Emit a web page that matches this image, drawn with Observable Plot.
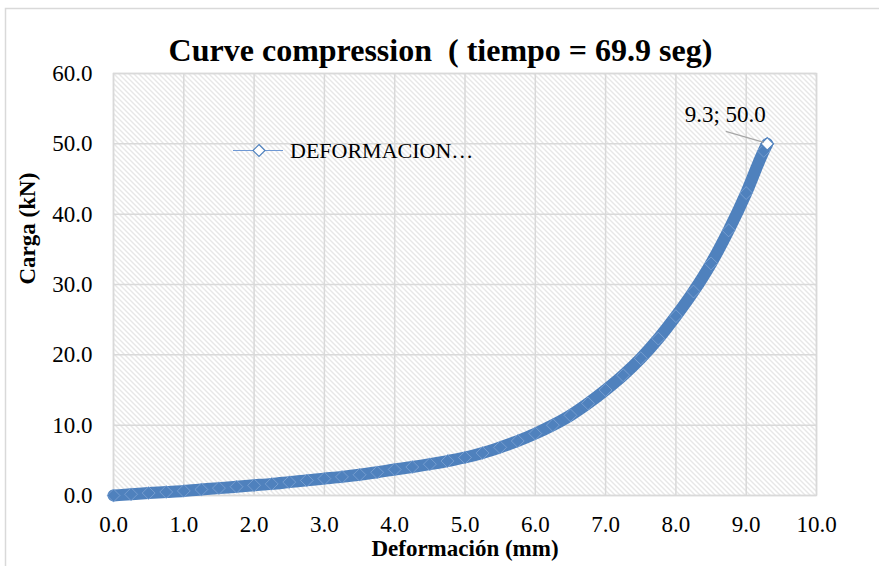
<!DOCTYPE html>
<html>
<head>
<meta charset="utf-8">
<script src="https://cdn.jsdelivr.net/npm/d3@7"></script>
<script src="https://cdn.jsdelivr.net/npm/@observablehq/plot@0.6"></script>
<style>
  body { margin: 0; background: #fff; }
  #chart { width: 879px; height: 566px; overflow: hidden; }
</style>
</head>
<body>
<div id="chart"></div>
<script>
// Compression test: deformation (mm) vs load (kN)
const deformacion = [0, 0.25, 0.5, 0.75, 1, 1.25, 1.5, 1.75, 2, 2.25, 2.5, 2.75, 3, 3.25, 3.5, 3.75,
  4, 4.25, 4.5, 4.75, 5, 5.25, 5.5, 5.75, 6, 6.25, 6.5, 6.75, 7, 7.25, 7.5, 7.75, 8, 8.25, 8.5, 8.75,
  9, 9.25, 9.3];
const carga = [0, 0.18, 0.35, 0.5, 0.65, 0.85, 1.05, 1.25, 1.45, 1.65, 1.9, 2.15, 2.4, 2.65, 2.95, 3.3,
  3.7, 4.05, 4.45, 4.9, 5.4, 6.05, 6.85, 7.75, 8.8, 10.0, 11.4, 13.1, 15.0, 17.1, 19.5, 22.3, 25.5, 29.0,
  33.0, 37.7, 43.0, 49.0, 50.0];
const xTicks = [0, 1, 2, 3, 4, 5, 6, 7, 8, 9, 10];
const yTicks = [0, 10, 20, 30, 40, 50, 60];
const chartTitle = "Curve compression  ( tiempo = 69.9 seg)";
const seriesName = "DEFORMACION…";
const xLabel = "Deformación (mm)";
const yLabel = "Carga (kN)";

const data = deformacion.map((x, i) => ({x, y: carga[i]}));
const last = data[data.length - 1];
const blue = "#4f81bd";
const serif = "'Liberation Serif', 'Times New Roman', serif";
const fmt = d3.format(".1f");

const plot = Plot.plot({
  width: 879,
  height: 566,
  marginLeft: 113,
  marginRight: 63,
  marginTop: 73,
  marginBottom: 71,
  style: {fontFamily: serif, fontSize: "23px", color: "#000", background: "#fff"},
  x: {domain: [0, 10], label: null},
  y: {domain: [0, 60], label: null},
  marks: [
    Plot.frame({fill: "url(#hatch)", stroke: null}),
    Plot.gridX(xTicks, {stroke: "#d9d9d9", strokeOpacity: 1, strokeWidth: 1.5}),
    Plot.gridY(yTicks, {stroke: "#d9d9d9", strokeOpacity: 1, strokeWidth: 1.5}),
    Plot.frame({stroke: "#d9d9d9", strokeWidth: 1.5}),
    Plot.axisX(xTicks, {tickFormat: fmt, tickSize: 0, tickPadding: 20, label: null, fontSize: 23}),
    Plot.axisY(yTicks, {tickFormat: fmt, tickSize: 0, tickPadding: 21, label: null, fontSize: 23}),
    // load curve: a thick band with dense diamond markers
    Plot.line(data, {x: "x", y: "y", stroke: blue, strokeWidth: 12, curve: "monotone-x"}),
    Plot.dot(data, {x: "x", y: "y", symbol: d3.symbolDiamond2, r: 5.8, fill: blue, stroke: "#8fb0dc", strokeWidth: 0.6}),
    Plot.dot([last], {x: "x", y: "y", symbol: d3.symbolDiamond2, r: 5.6, fill: "#fff", stroke: blue, strokeWidth: 1.2}),
    Plot.text([last], {x: "x", y: "y", text: d => `${fmt(d.x)}; ${fmt(d.y)}`, dx: -42, dy: -29, fontSize: 23}),
    Plot.text([chartTitle], {text: d => d, frameAnchor: "top", dx: -24.5, dy: -13, lineAnchor: "bottom", fontSize: 32, fontWeight: "bold"}),
    Plot.text([xLabel], {text: d => d, frameAnchor: "bottom", dy: 60, fontSize: 23, fontWeight: "bold"}),
    Plot.text([yLabel], {text: d => d, frameAnchor: "left", dx: -86, rotate: -90, fontSize: 23, fontWeight: "bold"})
  ]
});

const svg = d3.select(plot);

// hatched plot background
const defs = svg.insert("defs", ":first-child");
const pat = defs.append("pattern")
  .attr("id", "hatch")
  .attr("patternUnits", "userSpaceOnUse")
  .attr("width", 5)
  .attr("height", 5);
pat.append("rect").attr("width", 5).attr("height", 5).attr("fill", "#fff");
pat.append("path")
  .attr("d", "M-1,-1L6,6M-1,4L1,6M4,-1L6,1")
  .attr("stroke", "#cfcfcf")
  .attr("stroke-width", 1);

// chart area border
svg.insert("rect", "defs + *")
  .attr("x", 5.5).attr("y", 8.5)
  .attr("width", 1000).attr("height", 1000)
  .attr("fill", "none")
  .attr("stroke", "#d9d9d9")
  .attr("stroke-width", 1.5);

// leader line from the data label to the last point
const sx = plot.scale("x"), sy = plot.scale("y");
const px = sx.apply(last.x), py = sy.apply(last.y);
svg.append("line")
  .attr("x1", px - 41).attr("y1", py - 12)
  .attr("x2", px - 3).attr("y2", py - 1)
  .attr("stroke", "#a6a6a6")
  .attr("stroke-width", 1.2);

// legend
const lg = svg.append("g").attr("transform", "translate(233,150.5)");
lg.append("line").attr("x1", 0).attr("x2", 50).attr("stroke", "#6f98d4").attr("stroke-width", 1);
lg.append("path")
  .attr("transform", "translate(26,0)")
  .attr("d", "M0,-6L6,0L0,6L-6,0Z")
  .attr("fill", "#fff")
  .attr("stroke", blue)
  .attr("stroke-width", 1.2);
lg.append("text")
  .attr("x", 57).attr("y", 7.5)
  .attr("text-anchor", "start")
  .attr("font-family", serif)
  .attr("font-size", 22)
  .attr("fill", "#000")
  .text(seriesName);

document.getElementById("chart").appendChild(plot);
</script>
</body>
</html>
